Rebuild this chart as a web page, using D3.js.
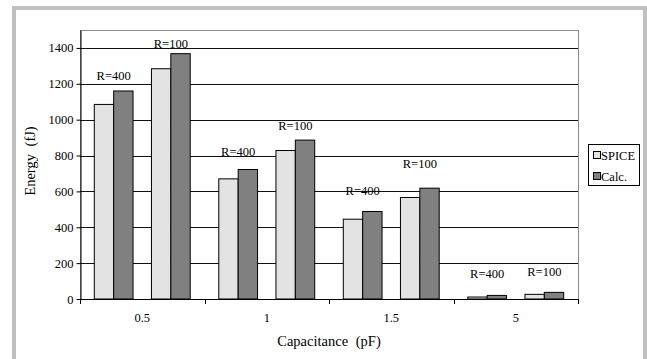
<!DOCTYPE html>
<html>
<head>
<meta charset="utf-8">
<script src="https://cdn.jsdelivr.net/npm/d3@7"></script>
<style>
  html, body { margin: 0; padding: 0; background: #fff; }
  svg, svg text { font-family: "Liberation Serif", "Times New Roman", serif; }
  svg { display: block; }
</style>
</head>
<body>
<svg id="chart" width="647" height="359"></svg>
<script>
// Switching energy vs. load capacitance, simulated (SPICE) and calculated
const capacitances = ["0.5", "1", "1.5", "5"];
const resistances = ["R=400", "R=100"];
const seriesNames = ["SPICE", "Calc."];
// values per capacitance, in resistance order (R=400, R=100)
const spiceEnergy = [1085, 1284, 670, 828, 445, 566, 11, 26];
const calcEnergy  = [1160, 1368, 722, 886, 488, 618, 20, 37];
// energy level where each resistance annotation sits
const labelLevel  = [1220, 1400, 799, 944, 581, 728, 117, 128];
const yTicks = [0, 200, 400, 600, 800, 1000, 1200, 1400];
const yMax = 1500;

const colors = { "SPICE": "#e3e3e3", "Calc.": "#808080" };

const svg = d3.select("#chart");
const plot = { left: 80, right: 578, top: 30, bottom: 299 };

// outer frame
svg.append("rect")
  .attr("x", 14).attr("y", 8).attr("width", 631).attr("height", 420)
  .attr("fill", "none").attr("stroke", "#c0c0c0").attr("stroke-width", 4);

// rows: one per capacitance / resistance pair
const rows = [];
capacitances.forEach((c, ci) => {
  resistances.forEach((r, ri) => {
    const i = ci * resistances.length + ri;
    rows.push({ cap: c, res: r, spice: spiceEnergy[i], calc: calcEnergy[i], label: labelLevel[i] });
  });
});

const x0 = d3.scaleBand().domain(capacitances).range([plot.left, plot.right]).padding(0);
const x1 = d3.scaleBand().domain(resistances).range([0, x0.bandwidth()])
  .paddingInner(0.322).paddingOuter(0.25);
const x2 = d3.scaleBand().domain(seriesNames).range([0, x1.bandwidth()]).padding(0);
const y = d3.scaleLinear().domain([0, yMax]).range([plot.bottom, plot.top]);

// plot area border
svg.append("rect")
  .attr("x", plot.left + 0.5).attr("y", Math.round(y(yMax)) + 0.5)
  .attr("width", plot.right - plot.left).attr("height", plot.bottom - Math.round(y(yMax)))
  .attr("fill", "none").attr("stroke", "#8c8c8c").attr("stroke-width", 1);

// horizontal gridlines
svg.append("g").selectAll("line")
  .data(yTicks.filter(d => d > 0))
  .join("line")
  .attr("x1", plot.left).attr("x2", plot.right)
  .attr("y1", d => Math.round(y(d)) + 0.5).attr("y2", d => Math.round(y(d)) + 0.5)
  .attr("stroke", "#111").attr("stroke-width", 1);

// bars
const groups = svg.append("g").selectAll("g")
  .data(rows)
  .join("g")
  .attr("transform", d => `translate(${x0(d.cap) + x1(d.res)},0)`);

groups.selectAll("rect")
  .data(d => seriesNames.map(s => ({ s, v: s === "SPICE" ? d.spice : d.calc })))
  .join("rect")
  .attr("x", d => x2(d.s))
  .attr("y", d => y(d.v))
  .attr("width", x2.bandwidth())
  .attr("height", d => y(0) - y(d.v))
  .attr("fill", d => colors[d.s])
  .attr("stroke", "#000").attr("stroke-width", 1);

// resistance annotations
svg.append("g").selectAll("text")
  .data(rows)
  .join("text")
  .attr("x", d => x0(d.cap) + x1(d.res) + x1.bandwidth() / 2)
  .attr("y", d => y(d.label))
  .attr("text-anchor", "middle")
  .attr("font-size", 12.5)
  .attr("fill", "#000")
  .text(d => d.res);

// y axis
const yAxis = d3.axisLeft(y).tickValues(yTicks).tickFormat(d3.format("d"))
  .tickSize(4).tickSizeOuter(0).tickPadding(3);
const gy = svg.append("g").attr("transform", `translate(${plot.left + 0.5},0)`).call(yAxis)
  .attr("font-family", null).attr("font-size", null);
gy.select(".domain").attr("stroke", "#000");
gy.selectAll(".tick line").attr("stroke", "#000");
gy.selectAll(".tick text").attr("font-size", 12.5).attr("fill", "#000");

// x axis: baseline with ticks at category boundaries
const gx = svg.append("g");
gx.append("line")
  .attr("x1", plot.left).attr("x2", plot.right)
  .attr("y1", plot.bottom + 0.5).attr("y2", plot.bottom + 0.5)
  .attr("stroke", "#000");
const bounds = capacitances.map(c => x0(c)).concat([plot.right]);
gx.selectAll("line.tk")
  .data(bounds)
  .join("line").attr("class", "tk")
  .attr("x1", d => Math.round(d) + 0.5).attr("x2", d => Math.round(d) + 0.5)
  .attr("y1", plot.bottom).attr("y2", plot.bottom + 5)
  .attr("stroke", "#000");
gx.selectAll("text")
  .data(capacitances)
  .join("text")
  .attr("x", d => x0(d) + x0.bandwidth() / 2)
  .attr("y", 322)
  .attr("text-anchor", "middle")
  .attr("font-size", 12.5)
  .text(d => d);

// axis titles
svg.append("text")
  .attr("x", (plot.left + plot.right) / 2).attr("y", 346)
  .attr("text-anchor", "middle")
  .attr("font-size", 14.5)
  .attr("word-spacing", 4)
  .text("Capacitance (pF)");

svg.append("text")
  .attr("transform", "translate(35,161) rotate(-90)")
  .attr("text-anchor", "middle")
  .attr("font-size", 14.5)
  .attr("word-spacing", 4)
  .text("Energy (fJ)");

// legend
const lg = svg.append("g").attr("transform", "translate(588,144)");
lg.append("rect").attr("x", 0.5).attr("y", 0.5).attr("width", 51).attr("height", 41)
  .attr("fill", "#fff").attr("stroke", "#000");
const items = lg.selectAll("g.item")
  .data(seriesNames)
  .join("g").attr("class", "item")
  .attr("transform", (d, i) => `translate(0,${11 + i * 21})`);
items.append("rect")
  .attr("x", 5.5).attr("y", -3.5).attr("width", 7).attr("height", 7)
  .attr("fill", d => colors[d]).attr("stroke", "#000");
items.append("text")
  .attr("x", 13).attr("y", 4.5)
  .attr("font-size", 12.5)
  .text(d => d);
</script>
</body>
</html>
